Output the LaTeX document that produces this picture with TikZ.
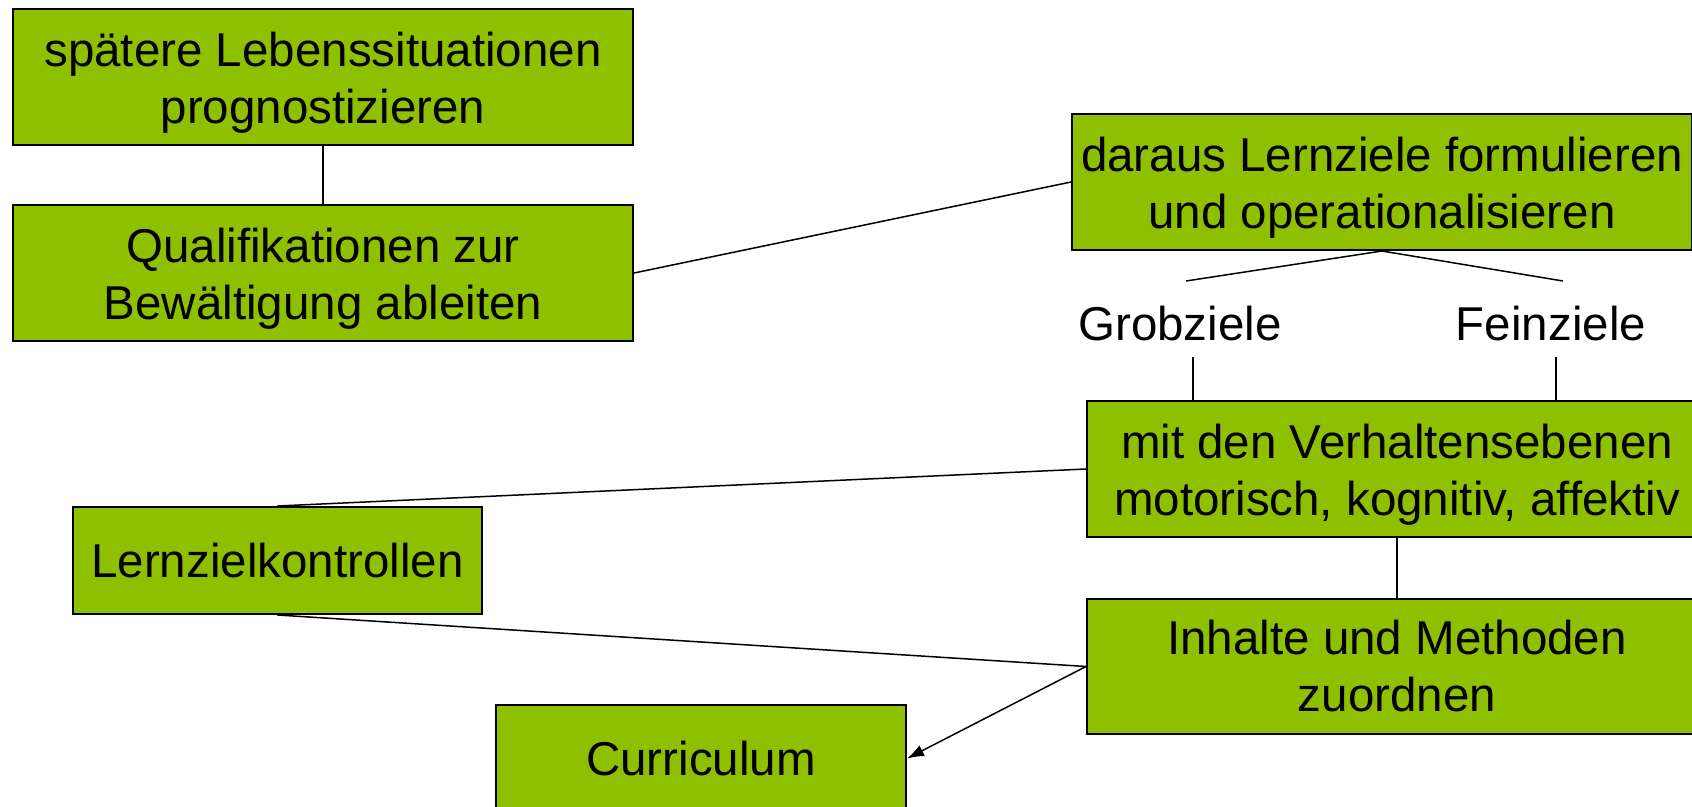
\documentclass[tikz,border=0pt]{standalone}
\usepackage{fontspec}
\setmainfont{Liberation Sans}
\usetikzlibrary{arrows.meta}
\definecolor{boxgreen}{RGB}{142,192,0}
\begin{document}
\begin{tikzpicture}[x=1pt,y=-1pt,
  greenbox/.style={draw=black, line width=2pt, fill=boxgreen, rectangle, inner sep=0pt,
    minimum width=620pt, minimum height=136pt, align=center,
    font=\fontsize{47.5}{57}\selectfont},
  smallbox/.style={greenbox, minimum width=409pt, minimum height=107pt},
  boxtext/.style={inner sep=0pt, align=center, yshift=-6pt,
    font=\fontsize{47.5}{57}\selectfont},
  plain/.style={inner sep=0pt, font=\fontsize{47.5}{57}\selectfont},
  conn/.style={draw=black, line width=1.5pt}
]
\useasboundingbox (0,0) rectangle (1692,806);
\fill[white] (0,0) rectangle (1692,806);

\node[greenbox, label={[boxtext]center:{spätere Lebenssituationen\\prognostizieren}}] (leben) at (323,77) {};
\node[greenbox, label={[boxtext]center:{Qualifikationen zur\\Bewältigung ableiten}}] (quali) at (323,273) {};
\node[greenbox, label={[boxtext]center:{daraus Lernziele formulieren\\und operationalisieren}}] (lernziel) at (1382,182) {};
\node[greenbox, label={[boxtext]center:{mit den Verhaltensebenen\\motorisch, kognitiv, affektiv}}] (verhalten) at (1397,469) {};
\node[greenbox, minimum height=135pt] (inhalte) at (1397,666.5) {Inhalte und Methoden\\zuordnen};
\node[smallbox] (kontrolle) at (277.5,560.5) {Lernzielkontrollen};
\node[smallbox, minimum width=410pt] (curr) at (701,758.5) {Curriculum};

\node[plain] (grob) at (1180,324) {Grobziele};
\node[plain] (fein) at (1551,324) {Feinziele};

\coordinate (grobtop) at (1186,281);
\coordinate (feintop) at (1563,281);
\coordinate (grobbot) at (1193,357);
\coordinate (feinbot) at (1556,357);

\draw[conn] (leben.south) -- (quali.north);
\draw[conn] (quali.east) -- (lernziel.west);
\draw[conn] (lernziel.south) -- (grobtop);
\draw[conn] (lernziel.south) -- (feintop);
\draw[conn] (grobbot) -- (grobbot |- verhalten.north);
\draw[conn] (feinbot) -- (feinbot |- verhalten.north);
\draw[conn] (verhalten.south) -- (inhalte.north);
\draw[conn] (kontrolle.north) -- (verhalten.west);
\draw[conn] (kontrolle.south) -- (inhalte.west);
\draw[conn, -{Latex[length=17pt,width=12pt]}] (inhalte.west) -- (curr.east);
\end{tikzpicture}
\end{document}
